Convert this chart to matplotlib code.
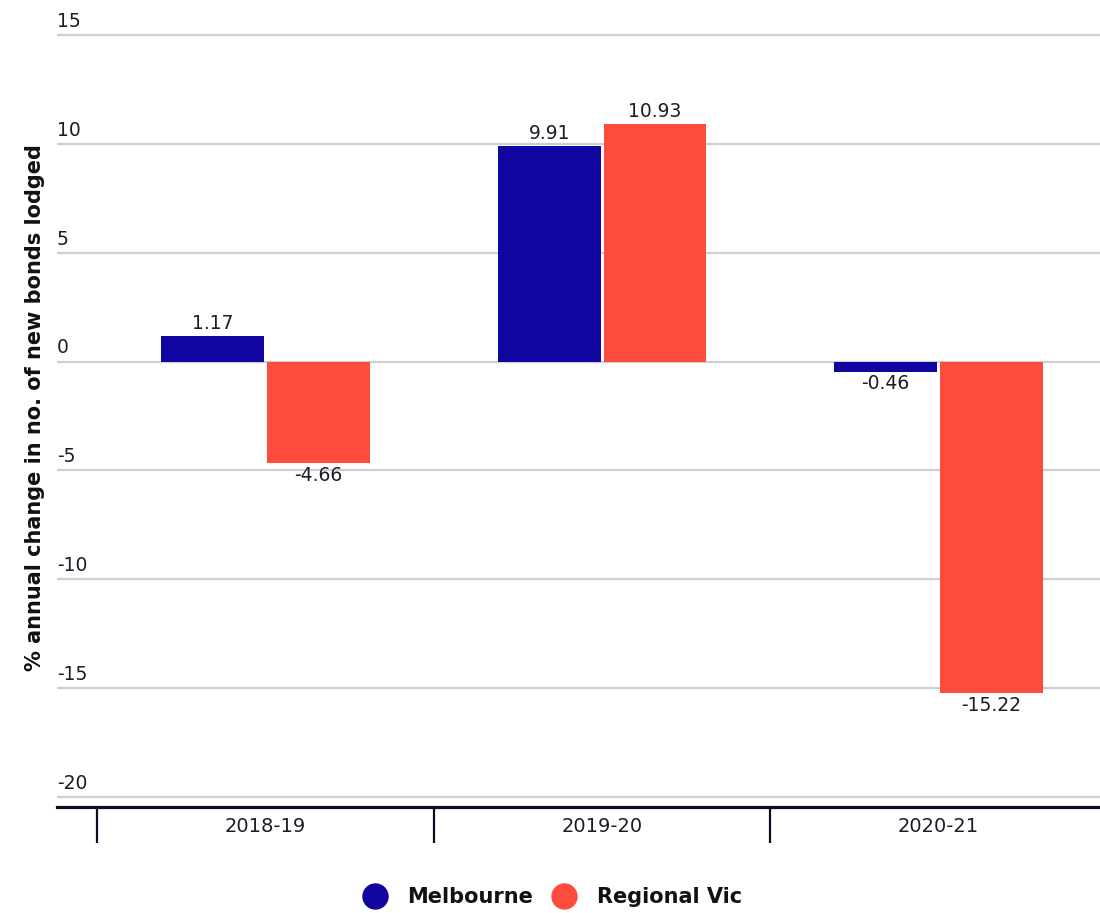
import matplotlib
matplotlib.use("Agg")
import matplotlib.pyplot as plt
import matplotlib.transforms as mtransforms
from matplotlib.lines import Line2D
import numpy as np

categories = ["2018-19", "2019-20", "2020-21"]
melbourne = [1.17, 9.91, -0.46]
regional = [-4.66, 10.93, -15.22]
series_names = ["Melbourne", "Regional Vic"]
yticks = [15, 10, 5, 0, -5, -10, -15, -20]

c_mel = "#10069F"
c_reg = "#FF4B3E"
txt = "#1c1c2a"
plt.rcParams['font.family'] = ['DejaVu Sans']

fig = plt.figure(figsize=(11, 9.13), dpi=100)
W, H = 1100, 913
ylo, yhi = -20.46, 15.5
y_px15, y_pxm20 = 35, 797
ppu = (y_pxm20 - y_px15) / 35.0
top_px = y_px15 - (yhi - 15) * ppu
bot_px = 807
ax = fig.add_axes([57 / W, (H - bot_px) / H, 1 - 57 / W, (bot_px - top_px) / H])
ax.set_ylim(ylo, yhi)
ax.set_xlim(-0.62, 2.48)

x = np.arange(len(categories))
bw = 0.305
off = 0.157
b1 = ax.bar(x - off, melbourne, bw, color=c_mel, zorder=3)
b2 = ax.bar(x + off, regional, bw, color=c_reg, zorder=3)

for bars, vals in ((b1, melbourne), (b2, regional)):
    for rect, v in zip(bars, vals):
        cx = rect.get_x() + rect.get_width() / 2
        if v >= 0:
            ax.annotate(f"{v:.2f}", (cx, v), xytext=(0, 2), textcoords="offset points",
                        ha="center", va="bottom", fontsize=13.5, color=txt, zorder=4)
        else:
            ax.annotate(f"{v:.2f}", (cx, v), xytext=(0, -2), textcoords="offset points",
                        ha="center", va="top", fontsize=13.5, color=txt, zorder=4)

# gridlines
for v in yticks:
    ax.axhline(v, color="#cfcfd3", lw=1.6, zorder=1)
ax.set_yticks([])
trans = mtransforms.blended_transform_factory(ax.transAxes, ax.transData)
for v in yticks:
    ax.annotate(f"{v}", (0, v), xycoords=trans, xytext=(0, 3), textcoords="offset points",
                ha="left", va="bottom", fontsize=13.5, color=txt)

for s in ("top", "right", "left"):
    ax.spines[s].set_visible(False)
ax.spines["bottom"].set_color("#0b0f22")
ax.spines["bottom"].set_linewidth(2.3)

ax.set_xticks(x)
ax.set_xticklabels(categories, fontsize=14, color=txt)
ax.tick_params(axis="x", which="major", length=0, pad=7)
ax.set_xticks([-0.5, 0.5, 1.5], minor=True)
ax.tick_params(axis="x", which="minor", length=26, width=1.6, color="#0b0f22")

fig.text(35 / W, 1 - 408 / H, "% annual change in no. of new bonds lodged", rotation=90,
         ha="center", va="center", fontsize=15, fontweight="bold", color="#111111")

handles = [Line2D([], [], marker="o", ls="", markersize=19, color=c_mel, markeredgewidth=0),
           Line2D([], [], marker="o", ls="", markersize=19, color=c_reg, markeredgewidth=0)]
leg = fig.legend(handles, series_names, loc="center", bbox_to_anchor=(548 / W, 1 - 897 / H),
                 ncol=2, frameon=False, handletextpad=0.55, columnspacing=0.5,
                 prop={"size": 15, "weight": "bold"})
for t in leg.get_texts():
    t.set_color("#111111")

fig.savefig("out.png", dpi=100)
